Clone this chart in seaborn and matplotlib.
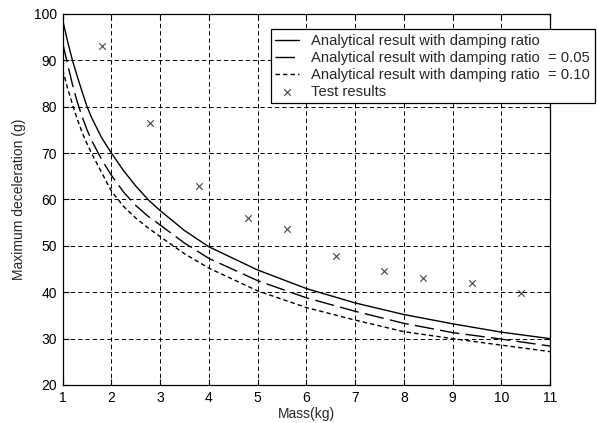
import matplotlib
matplotlib.use("Agg")
import matplotlib.pyplot as plt
import seaborn as sns
import pandas as pd

# ---- data ----
mass_grid = [1, 1.1, 1.2, 1.3, 1.4, 1.5, 1.6, 1.8, 2, 2.25, 2.5, 2.75, 3,
             3.5, 4, 5, 6, 7, 8, 9, 10, 11]
accel_undamped = [98.7, 94.1, 90.0, 86.5, 83.2, 80.0, 77.5, 73.3, 70.0, 66.2,
                  62.9, 60.0, 57.6, 53.3, 49.8, 44.8, 40.8, 37.7, 35.2, 33.2,
                  31.4, 30.0]
accel_005 = [93.7, 89.2, 84.8, 81.0, 77.8, 75.0, 72.6, 68.6, 65.2, 61.6,
             58.7, 56.4, 54.5, 50.6, 47.3, 42.5, 38.8, 35.9, 33.3, 31.3,
             29.9, 28.4]
accel_010 = [88.0, 84.0, 80.5, 77.3, 74.4, 72.0, 69.8, 65.8, 61.8, 58.5,
             56.0, 53.9, 52.0, 48.3, 45.2, 40.3, 36.7, 34.0, 31.5, 30.0,
             28.6, 27.2]

test_mass = [1.8, 2.8, 3.8, 4.8, 5.6, 6.6, 7.6, 8.4, 9.4, 10.4]
test_accel = [93.0, 76.5, 63.0, 56.0, 53.7, 47.8, 44.5, 43.1, 42.0, 39.8]

labels = ["Analytical result with damping ratio",
          "Analytical result with damping ratio  = 0.05",
          "Analytical result with damping ratio  = 0.10",
          "Test results"]
x_ticks = [1, 2, 3, 4, 5, 6, 7, 8, 9, 10, 11]
y_ticks = [20, 30, 40, 50, 60, 70, 80, 90, 100]

# ---- styling ----
sns.set_style("white")
plt.rcParams["font.family"] = ["Liberation Sans", "DejaVu Sans"]
plt.rcParams["font.size"] = 10

fig = plt.figure(figsize=(5.97, 4.23), dpi=100)
ax = fig.add_axes([62.7 / 597, 1 - 385 / 423, (550 - 62.7) / 597, (385 - 14) / 423])

df = pd.DataFrame({"m": mass_grid, "a0": accel_undamped,
                   "a1": accel_005, "a2": accel_010})

sns.lineplot(data=df, x="m", y="a0", ax=ax, color="black", linewidth=1.0,
             estimator=None, sort=False, label=labels[0])
sns.lineplot(data=df, x="m", y="a1", ax=ax, color="black", linewidth=1.0,
             linestyle=(0, (14, 4.5)), estimator=None, sort=False, label=labels[1])
sns.lineplot(data=df, x="m", y="a2", ax=ax, color="black", linewidth=1.0,
             linestyle=(0, (3.2, 2.2)), estimator=None, sort=False, label=labels[2])
sns.scatterplot(x=test_mass, y=test_accel, ax=ax, marker="x", color="#444444",
                s=22, linewidth=0.8, label=labels[3])

ax.set_xlim(1, 11)
ax.set_ylim(20, 100)
ax.set_xticks(x_ticks)
ax.set_yticks(y_ticks)
ax.set_xticklabels([str(t) for t in x_ticks])
ax.set_yticklabels([str(t) for t in y_ticks])
ax.grid(True, color="black", linestyle=(0, (4.5, 3)), linewidth=0.7)
ax.tick_params(direction="in", length=4, width=0.8, top=True, right=True,
               bottom=True, left=True, labelsize=10, pad=4, colors="black")
for sp in ax.spines.values():
    sp.set_color("black")
    sp.set_linewidth(0.9)
    sp.set_visible(True)

ax.set_xlabel("Mass(kg)", fontsize=10, labelpad=2)
ax.set_ylabel("Maximum deceleration (g)", fontsize=10, labelpad=6)

handles, labs = ax.get_legend_handles_labels()
leg = ax.legend(handles, labs, loc="upper left",
                bbox_to_anchor=(271 / 597, 1 - 29.5 / 423),
                bbox_transform=fig.transFigure, borderaxespad=0,
                fancybox=False, framealpha=1, edgecolor="black",
                fontsize=10.6, handlelength=1.6, handletextpad=0.85,
                borderpad=0.3, labelspacing=0.2)
leg.get_frame().set_linewidth(0.9)

fig.savefig("out.png", dpi=100)
